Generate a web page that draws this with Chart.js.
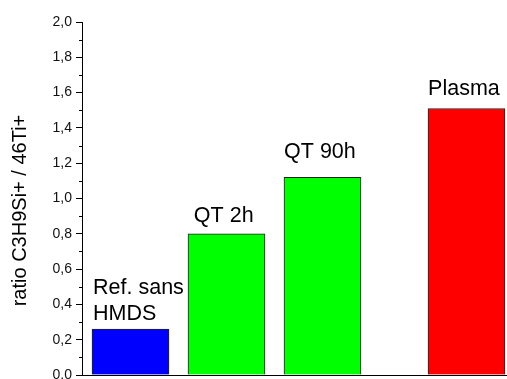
<!DOCTYPE html>
<html><head><meta charset="utf-8">
<script src="https://cdn.jsdelivr.net/npm/chart.js@4"></script>
<style>html,body{margin:0;padding:0;background:#fff;overflow:hidden}#wrap{position:relative;width:507px;height:379px}</style>
</head><body><div id="wrap"><canvas id="c"></canvas></div>
<script>
// ---- data ----
const categories = ['Ref. sans HMDS', 'QT 2h', 'QT 90h', 'Plasma'];
const labelLines = [['Ref. sans', 'HMDS'], ['QT 2h'], ['QT 90h'], ['Plasma']];
const xPositions = [1, 2, 3, 4.5];
const ratioValues = [0.26, 0.80, 1.12, 1.51];
const yTicks = [0.0, 0.2, 0.4, 0.6, 0.8, 1.0, 1.2, 1.4, 1.6, 1.8, 2.0];
const yTitle = 'ratio C3H9Si+ / 46Ti+';
// text annotation anchors (data units): left x, baseline y of last line
const labelAnchorX = [0.61, 1.66, 2.60, 4.10];
const labelAnchorY = [0.312, 0.867, 1.228, 1.585];

// ---- styles ----
const barColors = ['#0000FF', '#00FF00', '#00FF00', '#FF0000'];
const FONT = '"Liberation Sans", Arial, sans-serif';

const annotations = {
  id: 'annotations',
  afterDatasetsDraw(chart) {
    const ctx = chart.ctx, xs = chart.scales.x, ys = chart.scales.y;
    ctx.save();
    ctx.font = '21.5px ' + FONT;
    ctx.fillStyle = '#000';
    ctx.textAlign = 'left';
    ctx.textBaseline = 'alphabetic';
    labelLines.forEach((lines, i) => {
      const px = xs.getPixelForValue(labelAnchorX[i]);
      const py = ys.getPixelForValue(labelAnchorY[i]);
      const n = lines.length;
      lines.forEach((t, j) => ctx.fillText(t, px, py - (n - 1 - j) * 26));
    });
    ctx.restore();
  },
  afterDraw(chart) {
    const ctx = chart.ctx, ys = chart.scales.y, left = chart.chartArea.left;
    ctx.save();
    ctx.strokeStyle = '#000';
    ctx.lineWidth = 1;
    for (let i = 0; i < yTicks.length - 1; i++) {
      const py = Math.round(ys.getPixelForValue((yTicks[i] + yTicks[i + 1]) / 2)) + 0.5;
      ctx.beginPath(); ctx.moveTo(left - 3, py); ctx.lineTo(left, py); ctx.stroke();
    }
    // axis title
    ctx.font = '20px ' + FONT;
    ctx.fillStyle = '#000';
    ctx.textAlign = 'center';
    ctx.textBaseline = 'middle';
    ctx.translate(20, (chart.chartArea.top + chart.chartArea.bottom) / 2 + 12);
    ctx.rotate(-Math.PI / 2);
    ctx.fillText(yTitle, 0, 0);
    ctx.restore();
  }
};

new Chart(document.getElementById('c'), {
  type: 'bar',
  data: {
    datasets: [{
      label: 'ratio',
      data: ratioValues.map((v, i) => ({ x: xPositions[i], y: v })),
      backgroundColor: barColors,
      borderColor: '#222',
      borderWidth: 1,
      barThickness: 77
    }]
  },
  options: {
    responsive: true,
    maintainAspectRatio: false,
    animation: false,
    layout: { padding: { top: 22, right: 0, bottom: 0, left: 0 } },
    plugins: { legend: { display: false }, tooltip: { enabled: false } },
    scales: {
      x: {
        type: 'linear',
        offset: false,
        min: 0.495,
        max: 4.922,
        grid: { display: false, offset: false },
        border: { display: true, color: '#000', width: 1 },
        ticks: { display: false },
        afterFit(s) { s.height = 4; s.paddingLeft = 0; s.paddingRight = 0; }
      },
      y: {
        min: 0,
        max: 2,
        afterBuildTicks(s) { s.ticks = yTicks.map(v => ({ value: v })); },
        grid: { drawOnChartArea: false, drawTicks: true, tickLength: 6, color: '#000', tickColor: '#000' },
        border: { display: true, color: '#000', width: 1 },
        ticks: {
          padding: 4,
          color: '#111',
          font: { family: FONT, size: 14 },
          callback: v => v.toFixed(1).replace('.', ',')
        },
        title: { display: false, text: yTitle },
        afterFit(s) { s.width = 82; s.paddingTop = 0; s.paddingBottom = 0; }
      }
    }
  },
  plugins: [annotations]
});
</script></body></html>
